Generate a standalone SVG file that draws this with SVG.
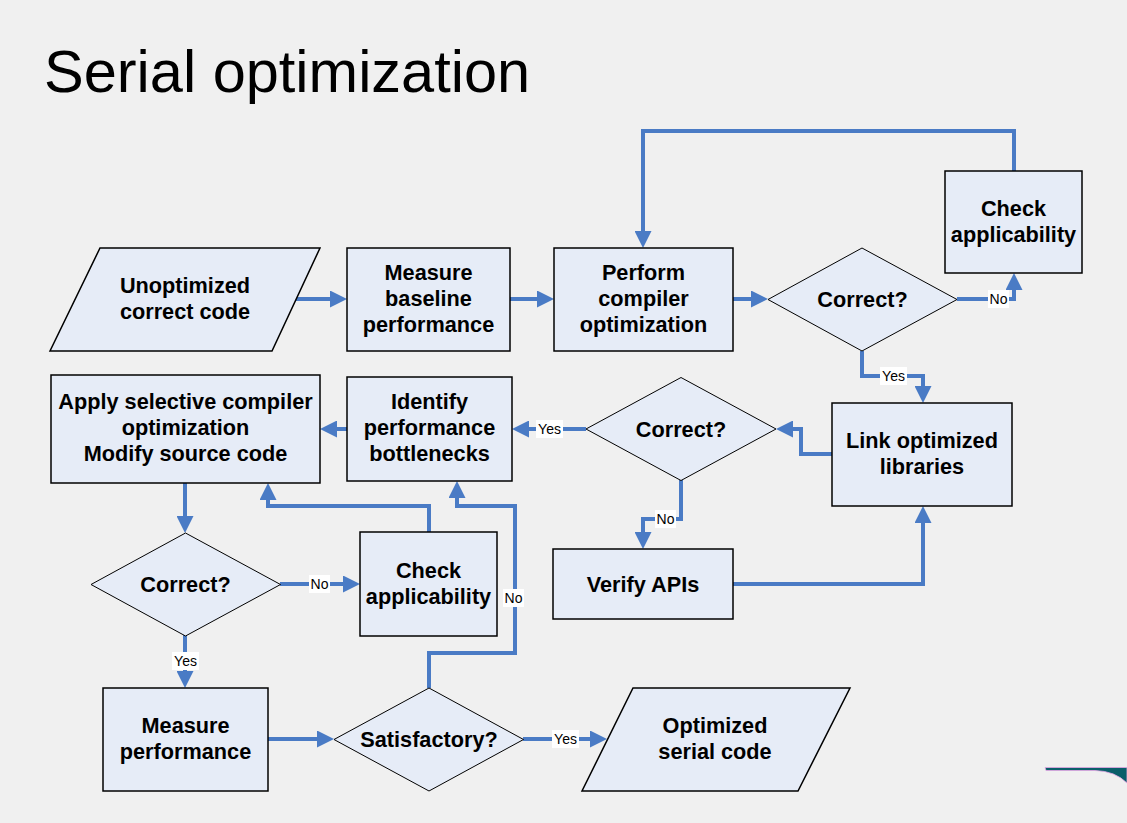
<svg xmlns="http://www.w3.org/2000/svg" width="1127" height="823" viewBox="0 0 1127 823">
<defs>
<style>
.bg{fill:#f0f0f0}
.box{fill:#e6ecf7;stroke:#000;stroke-width:1.5}
.dia{fill:#e6ecf7;stroke:#000;stroke-width:1}
.t{font-family:"Liberation Sans",Arial,sans-serif;font-weight:bold;font-size:21.7px;fill:#000;text-anchor:middle}
.title{font-family:"Liberation Sans",Arial,sans-serif;font-size:59.5px;fill:#000}
.c{fill:none;stroke:#4a7bc5;stroke-width:4;marker-end:url(#ah)}
.lb{fill:#fff}
.lt{font-family:"Liberation Sans",Arial,sans-serif;font-size:14px;fill:#000;text-anchor:middle}
</style>
<marker id="ah" markerUnits="userSpaceOnUse" markerWidth="17" markerHeight="17" refX="7" refY="8.5" orient="auto">
<path d="M0,0 L17,8.5 L0,17 Z" fill="#4a7bc5"/>
</marker>
</defs>
<rect class="bg" x="0" y="0" width="1127" height="823"/>
<text class="title" x="44" y="92">Serial optimization</text>

<g id="connectors">
<path class="c" d="M296,299 H337"/>
<path class="c" d="M510,299 H544"/>
<path class="c" d="M733,299 H758"/>
<path class="c" d="M957,299 H1014 V283"/>
<path class="c" d="M1014,171 V131 H643 V238"/>
<path class="c" d="M862,351 V376 H923 V393"/>
<path class="c" d="M832,454 H801 V429 H786"/>
<path class="c" d="M586,429 H522"/>
<path class="c" d="M681,480 V519 H643 V539"/>
<path class="c" d="M733,584 H923 V516"/>
<path class="c" d="M347,429 H330"/>
<path class="c" d="M185,483 V523"/>
<path class="c" d="M280,584 H350"/>
<path class="c" d="M429,532 V506 H268 V493"/>
<path class="c" d="M185,635 V678"/>
<path class="c" d="M268,739 H324"/>
<path class="c" d="M429,688 V653 H515 V506 H457 V491"/>
<path class="c" d="M523,739 H597"/>
<g id="labels">
<rect class="lb" x="988" y="290" width="21" height="18"/><text class="lt" x="998.5" y="304">No</text>
<rect class="lb" x="880" y="367" width="27" height="18"/><text class="lt" x="893.5" y="381">Yes</text>
<rect class="lb" x="536" y="420" width="27" height="18"/><text class="lt" x="549.5" y="434">Yes</text>
<rect class="lb" x="655" y="510" width="21" height="18"/><text class="lt" x="665.5" y="524">No</text>
<rect class="lb" x="309" y="575" width="21" height="18"/><text class="lt" x="319.5" y="589">No</text>
<rect class="lb" x="503" y="589" width="21" height="18"/><text class="lt" x="513.5" y="603">No</text>
<rect class="lb" x="172" y="652" width="27" height="18"/><text class="lt" x="185.5" y="666">Yes</text>
<rect class="lb" x="552" y="730" width="27" height="18"/><text class="lt" x="565.5" y="744">Yes</text>
</g>
</g>

<g id="n-unoptimized">
<polygon class="box" points="100,248 320,248 272,351 50,351"/>
<text class="t" x="185" y="293">Unoptimized</text>
<text class="t" x="185" y="319">correct code</text>
</g>
<g id="n-measure-baseline">
<rect class="box" x="347" y="248" width="163" height="103"/>
<text class="t" x="428.5" y="280">Measure</text>
<text class="t" x="428.5" y="306">baseline</text>
<text class="t" x="428.5" y="332">performance</text>
</g>
<g id="n-perform">
<rect class="box" x="554" y="248" width="179" height="103"/>
<text class="t" x="643.5" y="280">Perform</text>
<text class="t" x="643.5" y="306">compiler</text>
<text class="t" x="643.5" y="332">optimization</text>
</g>
<g id="n-correct1">
<polygon class="dia" points="862,248 957,299.5 862,351 768,299.5"/>
<text class="t" x="862.5" y="307">Correct?</text>
</g>
<g id="n-check1">
<rect class="box" x="945" y="171" width="137" height="102"/>
<text class="t" x="1013.5" y="216">Check</text>
<text class="t" x="1013.5" y="242">applicability</text>
</g>
<g id="n-link">
<rect class="box" x="832" y="403" width="180" height="103"/>
<text class="t" x="922" y="448">Link optimized</text>
<text class="t" x="922" y="474">libraries</text>
</g>
<g id="n-correct2">
<polygon class="dia" points="681,377.5 776,429 681,480.5 586,429"/>
<text class="t" x="681" y="436.5">Correct?</text>
</g>
<g id="n-verify">
<rect class="box" x="553" y="549" width="180" height="70"/>
<text class="t" x="643" y="591.5">Verify APIs</text>
</g>
<g id="n-identify">
<rect class="box" x="347" y="377" width="165" height="104"/>
<text class="t" x="429.5" y="408.5">Identify</text>
<text class="t" x="429.5" y="435">performance</text>
<text class="t" x="429.5" y="461">bottlenecks</text>
</g>
<g id="n-apply">
<rect class="box" x="51" y="375" width="269" height="108"/>
<text class="t" x="185.5" y="408.5">Apply selective compiler</text>
<text class="t" x="185.5" y="435">optimization</text>
<text class="t" x="185.5" y="461">Modify source code</text>
</g>
<g id="n-correct3">
<polygon class="dia" points="185.5,533 280.5,584.5 185.5,636 91,584.5"/>
<text class="t" x="185.5" y="592">Correct?</text>
</g>
<g id="n-check2">
<rect class="box" x="360" y="532" width="137" height="104"/>
<text class="t" x="428.5" y="578">Check</text>
<text class="t" x="428.5" y="604">applicability</text>
</g>
<g id="n-measure-perf">
<rect class="box" x="103" y="688" width="165" height="103"/>
<text class="t" x="185.5" y="733">Measure</text>
<text class="t" x="185.5" y="759">performance</text>
</g>
<g id="n-satisfactory">
<polygon class="dia" points="429,688 523.5,739.5 429,791 334,739.5"/>
<text class="t" x="429" y="747">Satisfactory?</text>
</g>
<g id="n-optimized">
<polygon class="box" points="633,688 850,688 798,791 582,791"/>
<text class="t" x="715" y="733">Optimized</text>
<text class="t" x="715" y="759">serial code</text>
</g>

<path d="M1045,767.5 L1127,767.5 L1127,783 Q1115,771 1095,770.5 L1046,770.5 Z" fill="#0a5f6a" stroke="#e6a6e6" stroke-width="0.8"/>
</svg>
